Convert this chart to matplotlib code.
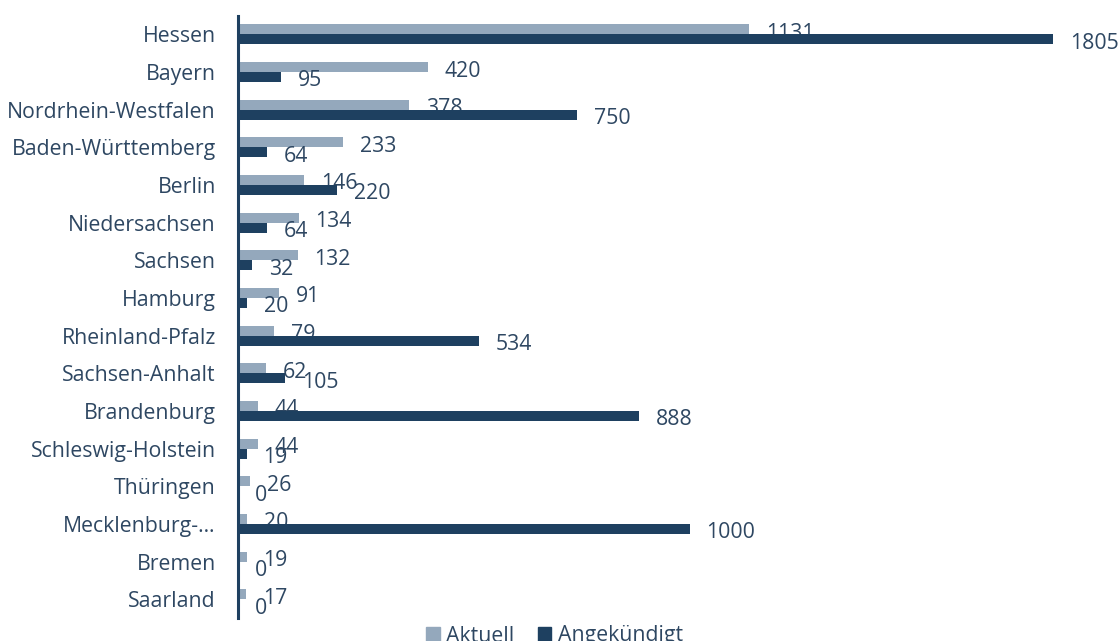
import numpy as np
from matplotlib import pyplot as plt
from matplotlib.patches import Patch

# Bundesländer und Werte
laender = ['Hessen', 'Bayern', 'Nordrhein-Westfalen', 'Baden-Württemberg', 'Berlin',
           'Niedersachsen', 'Sachsen', 'Hamburg', 'Rheinland-Pfalz', 'Sachsen-Anhalt',
           'Brandenburg', 'Schleswig-Holstein', 'Thüringen', 'Mecklenburg-…', 'Bremen',
           'Saarland']
aktuell = [1131, 420, 378, 233, 146, 134, 132, 91, 79, 62, 44, 44, 26, 20, 19, 17]
angekuendigt = [1805, 95, 750, 64, 220, 64, 32, 20, 534, 105, 888, 19, 0, 1000, 0, 0]

c_hell = '#94a8bc'
c_dunkel = '#1e4060'
c_text = '#2e4762'

plt.rcParams['font.family'] = ['Open Sans', 'DejaVu Sans']
fs = 15.3

fig = plt.figure(figsize=(11.2, 6.41), dpi=100)
ax = fig.add_axes([238 / 1120, 1 - 618 / 641, 862 / 1120, 602.5 / 641])

y = np.arange(len(laender))
h = 0.265

ax.barh(y - h / 2, aktuell, height=h, color=c_hell, zorder=2)
ax.barh(y + h / 2, angekuendigt, height=h, color=c_dunkel, zorder=4)

# Werte rechts neben den Balken
xmax = (1100 - 238) / 0.4515
off = 17 / 0.4515
for i in range(len(laender)):
    ax.text(aktuell[i] + off, y[i] - h / 2 + 0.04, str(aktuell[i]), color=c_text,
            fontsize=fs, va='center_baseline', ha='left', zorder=3)
    ax.text(angekuendigt[i] + off, y[i] + h / 2 + 0.04, str(angekuendigt[i]), color=c_text,
            fontsize=fs, va='center_baseline', ha='left', zorder=5)

ax.set_xlim(0, xmax)
ax.set_ylim(len(laender) - 0.5, -0.5)
ax.set_yticks(y)
ax.set_yticklabels(laender, fontsize=fs, color=c_text)
ax.tick_params(axis='y', length=0, pad=16)
ax.set_xticks([])

for s in ['top', 'right', 'bottom']:
    ax.spines[s].set_visible(False)
ax.spines['left'].set_color(c_dunkel)
ax.spines['left'].set_linewidth(2.2)
ax.spines['left'].set_zorder(6)

handles = [Patch(color=c_hell, label='Aktuell'), Patch(color=c_dunkel, label='Angekündigt')]
leg = fig.legend(handles=handles, loc='center', bbox_to_anchor=(0.495, 1 - 636 / 641),
                 ncol=2, frameon=False, fontsize=fs, handlelength=0.65, handleheight=0.65,
                 handletextpad=0.3, columnspacing=1.1, borderaxespad=0)
for t in leg.get_texts():
    t.set_color(c_text)

fig.savefig('out.png', dpi=100)
